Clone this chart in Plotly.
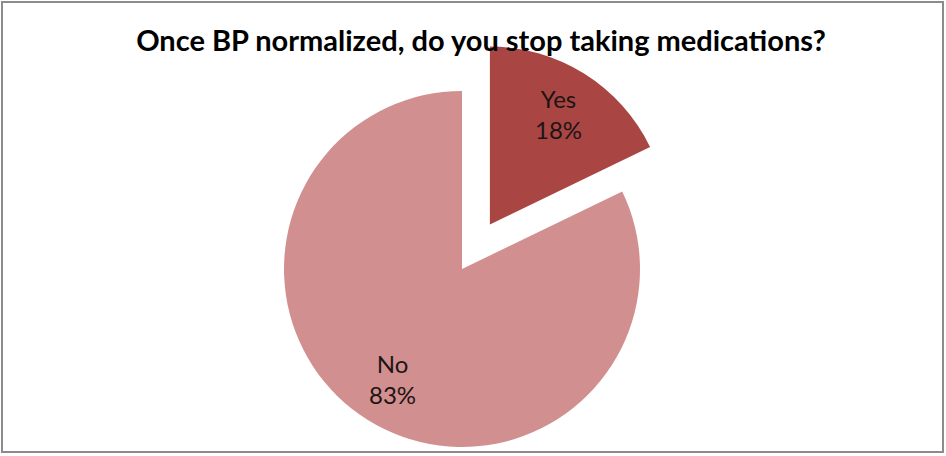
import math
import plotly.graph_objects as go

# ---- data ----
labels = ["Yes", "No"]
values = [18, 83]          # percentages as printed in the chart
colors = ["#A94643", "#D1908F"]
title_text = "Once BP normalized, do you stop taking medications?"
pulled = "Yes"             # exploded slice

# ---- layout geometry (pixels) ----
W, H = 946, 456
cx, cy = 462, 269          # pie centre (from top-left)
R = 178                    # pie radius
pull = 0.295
label_r = 0.73             # label distance as fraction of radius


def domain(cx_px, cy_px):
    return dict(x=[(cx_px - R) / W, (cx_px + R) / W],
                y=[(H - cy_px - R) / H, (H - cy_px + R) / H])


total = sum(values)
mids = []
start = 0.0
for v in values:
    ang = v / total * 2 * math.pi
    mids.append(start + ang / 2)
    start += ang

pi_ = labels.index(pulled)
dx = pull * R * math.sin(mids[pi_])
dy = -pull * R * math.cos(mids[pi_])

fig = go.Figure()
for is_pulled in (False, True):
    cols = [c if ((lab == pulled) == is_pulled) else "rgba(0,0,0,0)"
            for lab, c in zip(labels, colors)]
    d = domain(cx + dx, cy + dy) if is_pulled else domain(cx, cy)
    fig.add_trace(go.Pie(
        labels=labels, values=values, sort=False, direction="clockwise",
        rotation=0, domain=d,
        marker=dict(colors=cols, line=dict(width=0)),
        textinfo="none",
        hoverinfo="label+value", showlegend=False,
    ))

annotations = []
for i, (lab, v) in enumerate(zip(labels, values)):
    ox, oy = (cx + dx, cy + dy) if lab == pulled else (cx, cy)
    px = ox + label_r * R * math.sin(mids[i])
    py = oy - label_r * R * math.cos(mids[i])
    annotations.append(dict(
        x=px / W, y=1 - py / H, xref="paper", yref="paper",
        text=f"{lab}<br>{v}%", showarrow=False,
        xanchor="center", yanchor="middle",
        font=dict(family="Lato", size=24, color="#1e1414"),
    ))

fig.update_layout(
    width=W, height=H,
    margin=dict(l=0, r=0, t=0, b=0),
    paper_bgcolor="white", plot_bgcolor="white",
    title=dict(text=title_text, x=481 / W, xanchor="center",
               y=1 - 41 / H, yanchor="middle",
               font=dict(family="Lato", size=29, color="black", weight="bold")),
    annotations=annotations,
    shapes=[dict(type="rect", xref="paper", yref="paper",
                 x0=2 / W, x1=943 / W, y0=1 - 452 / H, y1=1 - 2 / H,
                 line=dict(color="#8c8c8c", width=2), fillcolor="rgba(0,0,0,0)",
                 layer="below")],
)
fig.write_html("out.html",
               config={"displayModeBar": False},
               post_script="document.body.style.margin='0';document.body.style.overflow='hidden';")
